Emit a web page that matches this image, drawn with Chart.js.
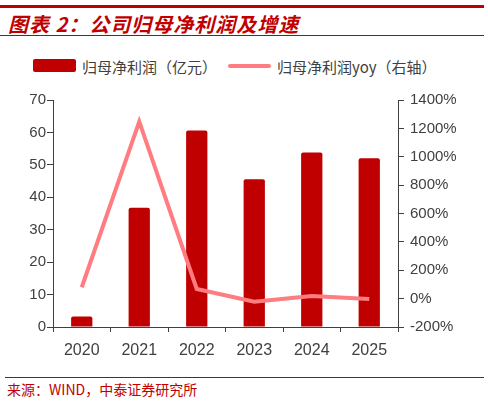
<!DOCTYPE html>
<html>
<head>
<meta charset="utf-8">
<script src="https://cdn.jsdelivr.net/npm/chart.js@4.4.0/dist/chart.umd.min.js"></script>
<style>
  body{margin:0;background:#fff;width:488px;height:401px;position:relative;overflow:hidden;
       font-family:"Liberation Sans","Noto Sans CJK SC",sans-serif;}
  .topline{position:absolute;left:0;top:5px;width:484px;height:3px;background:#C00000;}
  .title{position:absolute;left:8px;top:9px;font-family:"Noto Sans CJK SC",sans-serif;font-size:20px;
         font-weight:bold;font-style:italic;color:#C00000;letter-spacing:1px;}
  .subline{position:absolute;left:0;top:35px;width:484px;height:1px;background:#C00000;}
  .legend{position:absolute;top:56px;left:0;font-family:"Noto Sans CJK SC",sans-serif;font-size:15px;color:#404040;}
  .lg{position:absolute;white-space:nowrap;top:0;}
  .box{position:absolute;left:33px;top:3px;width:43px;height:13px;background:#C00000;border-radius:2px;}
  .ln{position:absolute;left:228px;top:8px;width:43px;height:4px;background:#FF7C80;border-radius:2px;}
  #wrap{position:absolute;left:0;top:85px;width:488px;height:280px;}
  .footline{position:absolute;left:5px;top:377px;width:479px;height:1px;background:#C00000;}
  .source{position:absolute;left:7px;top:379px;font-family:"Noto Sans CJK SC",sans-serif;font-size:14px;color:#C00000;}
</style>
</head>
<body>
<div class="topline"></div>
<div class="title">图表 2：公司归母净利润及增速</div>
<div class="subline"></div>
<div class="legend">
  <div class="box"></div><div class="lg" style="left:82px;">归母净利润（亿元）</div>
  <div class="ln"></div><div class="lg" style="left:277px;">归母净利润yoy（右轴）</div>
</div>
<div id="wrap"><canvas id="chart"></canvas></div>
<div class="footline"></div>
<div class="source">来源：WIND，中泰证券研究所</div>
<script>
// data
const years = ["2020", "2021", "2022", "2023", "2024", "2025"];
const net_profit = [3.2, 36.8, 60.6, 45.6, 53.8, 52.0];   // 亿元
const profit_yoy = [80, 1247, 68, -22, 18, -3];           // %

const axis_color = "#404040";
const tick_font = { family: "Liberation Sans", size: 15 };

new Chart(document.getElementById("chart").getContext("2d"), {
    data: {
        labels: years,
        datasets: [
            {
                type: "line",
                label: "归母净利润yoy（右轴）",
                data: profit_yoy,
                yAxisID: "y1",
                borderColor: "#FF7C80",
                borderWidth: 4,
                pointRadius: 0,
                tension: 0,
                order: 0
            },
            {
                type: "bar",
                label: "归母净利润（亿元）",
                data: net_profit,
                yAxisID: "y",
                backgroundColor: "#C00000",
                borderRadius: 2,
                borderSkipped: "bottom",
                categoryPercentage: 1,
                barPercentage: 0.37,
                order: 1
            }
        ]
    },
    options: {
        responsive: true,
        maintainAspectRatio: false,
        animation: false,
        layout: { padding: { top: 14, left: 0, right: 0, bottom: 0 } },
        plugins: { legend: { display: false }, tooltip: { enabled: false } },
        scales: {
            x: {
                offset: true,
                grid: { offset: true, drawOnChartArea: false, drawTicks: true, tickLength: 5, color: axis_color },
                border: { color: axis_color, width: 1 },
                ticks: { color: axis_color, font: { family: "Liberation Sans", size: 16 }, padding: 9 },
                afterFit: function(scale){ scale.height = 38; }
            },
            y: {
                position: "left",
                min: 0, max: 70,
                ticks: { stepSize: 10, color: axis_color, font: tick_font, padding: 1 },
                grid: { drawOnChartArea: false, drawTicks: true, tickLength: 6, color: axis_color },
                border: { color: axis_color, width: 1 },
                afterFit: function(scale){ scale.width = 53; }
            },
            y1: {
                position: "right",
                min: -200, max: 1400,
                ticks: { stepSize: 200, color: axis_color, font: tick_font, padding: 6,
                         callback: function(v){ return v + "%"; } },
                grid: { drawOnChartArea: false, drawTicks: true, tickLength: 6, color: axis_color },
                border: { color: axis_color, width: 1 },
                afterFit: function(scale){ scale.width = 90; }
            }
        }
    }
});
</script>
</body>
</html>
